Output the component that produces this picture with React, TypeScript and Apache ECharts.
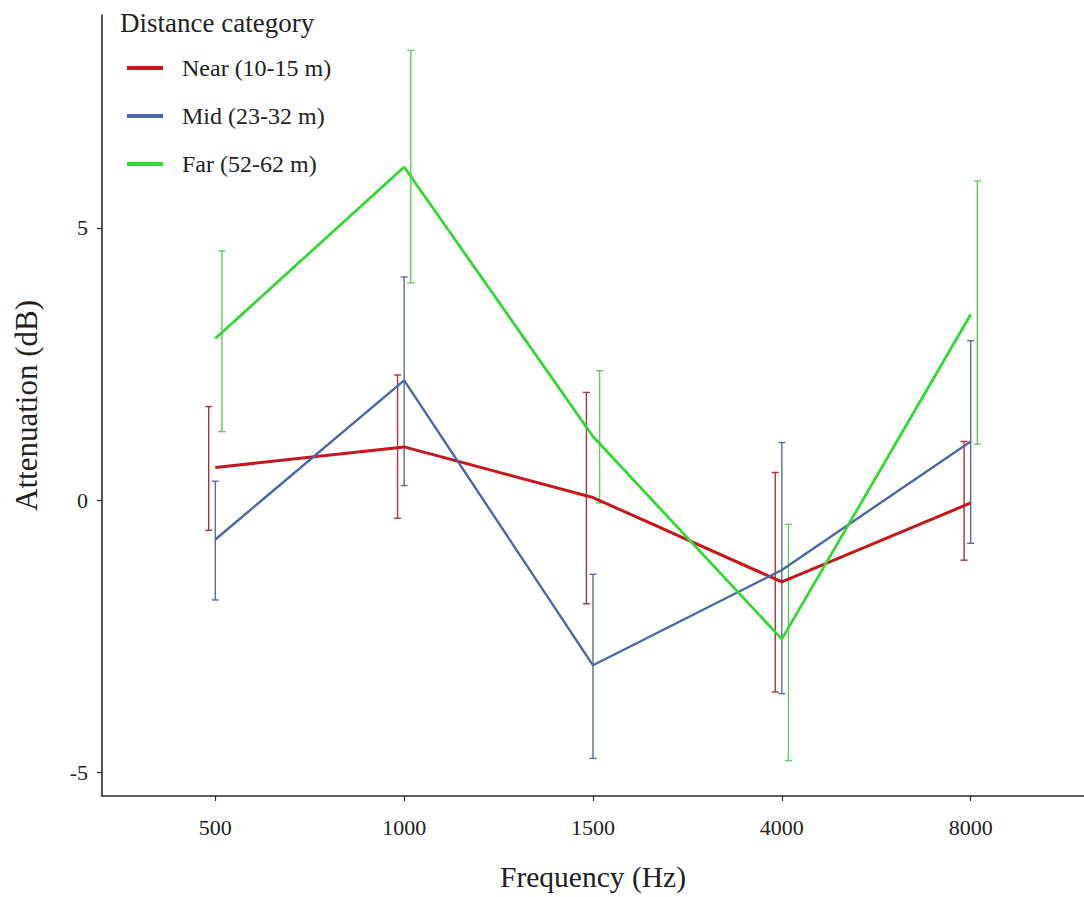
import React, { useEffect, useRef } from 'react';
import * as echarts from 'echarts';

const categories = ['500', '1000', '1500', '4000', '8000'];
const yTickValues = [-5, 0, 5];
const seriesNames = ['Near (10-15 m)', 'Mid (23-32 m)', 'Far (52-62 m)'];

const nearMean = [0.6, 0.98, 0.05, -1.5, -0.05];
const nearLow = [-0.55, -0.33, -1.9, -3.52, -1.1];
const nearHigh = [1.72, 2.3, 1.98, 0.51, 1.08];

const midMean = [-0.72, 2.2, -3.03, -1.28, 1.08];
const midLow = [-1.83, 0.27, -4.74, -3.55, -0.79];
const midHigh = [0.35, 4.1, -1.36, 1.06, 2.93];

const farMean = [2.97, 6.12, 1.17, -2.55, 3.41];
const farLow = [1.26, 3.99, -0.05, -4.78, 1.03];
const farHigh = [4.58, 8.26, 2.38, -0.44, 5.86];

const dodge = [-0.035, 0, 0.035];

export default function App() {
  const ref = useRef<HTMLDivElement>(null);

  useEffect(() => {
    const chart = echarts.init(ref.current as HTMLDivElement, null, { renderer: 'svg' });
    const font = '"Liberation Serif", "Times New Roman", serif';
    const textColor = '#222222';
    const axisColor = '#2a2a2a';

    const groups = [
      { name: seriesNames[0], mean: nearMean, low: nearLow, high: nearHigh, color: '#c8161d', barColor: '#a8343a', width: 3 },
      { name: seriesNames[1], mean: midMean, low: midLow, high: midHigh, color: '#4a67a8', barColor: '#5a6d92', width: 2.4 },
      { name: seriesNames[2], mean: farMean, low: farLow, high: farHigh, color: '#33d933', barColor: '#5fcc5f', width: 2.8 },
    ];

    const lineSeries = groups.map((g) => ({
      name: g.name,
      type: 'line',
      data: g.mean.map((v, i) => [i, v]),
      symbol: 'none',
      lineStyle: { color: g.color, width: g.width },
      itemStyle: { color: g.color },
      z: 3,
      silent: true,
    }));

    const errSeries = groups.map((g, gi) => ({
      name: g.name + ' error',
      type: 'custom',
      silent: true,
      z: 2,
      data: g.low.map((lo, i) => [i + dodge[gi], lo, g.high[i]]),
      encode: { x: 0, y: [1, 2] },
      renderItem: (params: any, api: any) => {
        const x = api.value(0);
        const lo = api.value(1);
        const hi = api.value(2);
        const top = api.coord([x, hi]);
        const bot = api.coord([x, lo]);
        const w = 3.5;
        const style = { stroke: g.barColor, lineWidth: 1.4 };
        return {
          type: 'group',
          children: [
            { type: 'line', shape: { x1: top[0], y1: top[1], x2: bot[0], y2: bot[1] }, style },
            { type: 'line', shape: { x1: top[0] - w, y1: top[1], x2: top[0] + w, y2: top[1] }, style },
            { type: 'line', shape: { x1: bot[0] - w, y1: bot[1], x2: bot[0] + w, y2: bot[1] }, style },
          ],
        };
      },
    }));

    const option: any = {
      animation: false,
      backgroundColor: '#ffffff',
      title: {
        text: 'Distance category',
        left: 115,
        top: 4,
        textStyle: { fontFamily: font, fontSize: 27, fontWeight: 'normal', color: textColor },
      },
      legend: {
        data: seriesNames,
        orient: 'vertical',
        left: 122,
        top: 50,
        icon: 'rect',
        itemWidth: 36,
        itemHeight: 4,
        itemGap: 22,
        textStyle: {
          fontFamily: font,
          fontSize: 24,
          lineHeight: 26,
          color: textColor,
          padding: [0, 0, 0, 14],
        },
      },
      grid: { left: 102, right: -4, top: 15, bottom: 99, containLabel: false },
      xAxis: {
        type: 'value',
        min: -0.6,
        max: 4.6,
        name: 'Frequency (Hz)',
        nameLocation: 'middle',
        nameGap: 66,
        nameTextStyle: { fontFamily: font, fontSize: 29.5, color: textColor },
        axisLine: { show: true, onZero: false, lineStyle: { color: axisColor, width: 1.6 } },
        axisTick: { show: true, length: 5, customValues: [0, 1, 2, 3, 4], lineStyle: { color: axisColor, width: 1.2 } },
        axisLabel: {
          customValues: [0, 1, 2, 3, 4],
          formatter: (v: number) => categories[Math.round(v)] ?? '',
          fontFamily: font,
          fontSize: 22,
          color: textColor,
          margin: 20,
        },
        splitLine: { show: false },
      },
      yAxis: {
        type: 'value',
        min: -5.43,
        max: 8.91,
        name: 'Attenuation (dB)',
        nameLocation: 'middle',
        nameGap: 60,
        nameTextStyle: { fontFamily: font, fontSize: 31, color: textColor },
        axisLine: { show: true, onZero: false, lineStyle: { color: axisColor, width: 1.6 } },
        axisTick: { show: true, length: 5, customValues: yTickValues, lineStyle: { color: axisColor, width: 1.2 } },
        axisLabel: {
          customValues: yTickValues,
          fontFamily: font,
          fontSize: 22,
          color: textColor,
          margin: 14,
        },
        splitLine: { show: false },
      },
      series: [...errSeries, ...lineSeries],
    };

    chart.setOption(option);
    return () => {
      chart.dispose();
    };
  }, []);

  return (
    <div
      ref={ref}
      style={{ position: 'fixed', left: 0, top: 0, width: 1084, height: 897, background: '#ffffff' }}
    />
  );
}
